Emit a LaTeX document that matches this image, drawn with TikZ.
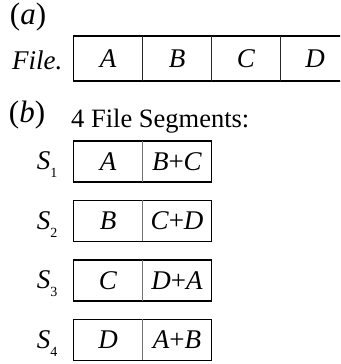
\documentclass[tikz,border=0pt]{standalone}
\usepackage{fontspec}
\setmainfont{Liberation Serif}
\usetikzlibrary{positioning}

\newcommand{\sub}[1]{\raisebox{-8pt}{\upshape\fontsize{14}{14}\selectfont #1}}

\tikzset{
  cell/.style={rectangle, inner sep=0pt, outer sep=0pt, minimum width=69pt,
               minimum height=45pt, font=\fontsize{27}{32}\selectfont\itshape},
  segcell/.style={cell, minimum height=41pt},
  partlabel/.style={font=\fontsize{31}{36}\selectfont},
  seglabel/.style={font=\fontsize{27}{32}\selectfont\itshape, inner sep=0pt},
  outline/.style={line width=1.3pt},
  divider/.style={line width=1.1pt, black!85},
  segdivider/.style={line width=1.2pt, black!55}
}

\begin{document}
\begin{tikzpicture}[x=1pt, y=1pt]
  \useasboundingbox (0,0) rectangle (340,364);
  \clip (0,0) rectangle (340,364);

  % (a) the whole file
  \node[partlabel] (parta) at (28,347) {(\textit{a})};
  \node[cell] (fa) at (108,305.5) {A};
  \node[cell, right=0pt of fa] (fb) {B};
  \node[cell, right=0pt of fb] (fc) {C};
  \node[cell, right=0pt of fc] (fd) {D};
  \node[seglabel, left=11pt of fa, yshift=-2pt] (file) {File.};

  \draw[outline] (fa.north west) rectangle (fd.south east);
  \draw[divider] (fa.north east) -- (fa.south east);
  \draw[divider] (fb.north east) -- (fb.south east);
  \draw[divider] (fc.north east) -- (fc.south east);

  % (b) the segments
  \node[partlabel] (partb) at (27,249) {(\textit{b})};
  \node[font=\fontsize{26.5}{30}\selectfont, anchor=base west, inner sep=0pt]
       (segtitle) at (71,236) {4 File Segments:};

  \node[segcell] (sa1) at (108,202.5) {A};
  \node[segcell, right=0pt of sa1] (sb1) {\textup{\textit{B}+\textit{C}}};
  \node[segcell] (sa2) at (108,143) {B};
  \node[segcell, right=0pt of sa2] (sb2) {\textup{\textit{C}+\textit{D}}};
  \node[segcell] (sa3) at (108,83.5) {C};
  \node[segcell, right=0pt of sa3] (sb3) {\textup{\textit{D}+\textit{A}}};
  \node[segcell] (sa4) at (108,24) {D};
  \node[segcell, right=0pt of sa4] (sb4) {\textup{\textit{A}+\textit{B}}};

  \node[seglabel, left=16pt of sa1, yshift=-3.5pt] (s1) {S\sub{1}};
  \node[seglabel, left=16pt of sa2, yshift=-3.5pt] (s2) {S\sub{2}};
  \node[seglabel, left=16pt of sa3, yshift=-3.5pt] (s3) {S\sub{3}};
  \node[seglabel, left=16pt of sa4, yshift=-3.5pt] (s4) {S\sub{4}};

  \draw[outline] (sa1.north west) rectangle (sb1.south east);
  \draw[outline] (sa2.north west) rectangle (sb2.south east);
  \draw[outline] (sa3.north west) rectangle (sb3.south east);
  \draw[outline] (sa4.north west) rectangle (sb4.south east);
  \draw[segdivider] (sa1.north east) -- (sa1.south east);
  \draw[segdivider] (sa2.north east) -- (sa2.south east);
  \draw[segdivider] (sa3.north east) -- (sa3.south east);
  \draw[segdivider] (sa4.north east) -- (sa4.south east);
\end{tikzpicture}
\end{document}
